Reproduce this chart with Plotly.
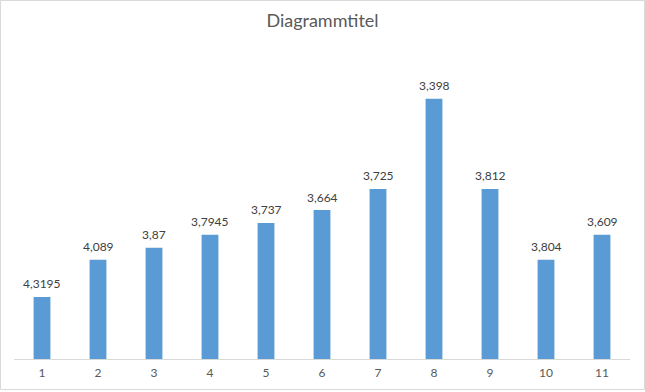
import plotly.graph_objects as go

categories = [1, 2, 3, 4, 5, 6, 7, 8, 9, 10, 11]
bar_values = [2.5, 4.0, 4.48, 5.0, 5.48, 6.0, 6.85, 10.48, 6.85, 4.0, 5.0]
label_texts = ["4,3195", "4,089", "3,87", "3,7945", "3,737", "3,664",
               "3,725", "3,398", "3,812", "3,804", "3,609"]
title_text = "Diagrammtitel"

W, H = 645, 392
ML, MR, MT, MB = 14, 15, 61, 33
PW = W - ML - MR
PH = H - MT - MB

FONT = "Lato, 'Open Sans', sans-serif"

fig = go.Figure()
fig.add_trace(go.Bar(
    x=categories, y=bar_values,
    marker=dict(color="#5B9BD5", line=dict(width=0)),
    hoverinfo="skip",
))

for c, v, t in zip(categories, bar_values, label_texts):
    fig.add_annotation(x=c, y=v, text=t, showarrow=False, yshift=13,
                       font=dict(family=FONT, size=12, color="#404040"))

def px_x(p):
    return (p - ML) / PW

def px_y(p):
    return (H - MB - p) / PH

fig.add_shape(type="rect", xref="paper", yref="paper",
              x0=px_x(0.5), x1=px_x(644.5), y0=px_y(389.5), y1=px_y(0.5),
              line=dict(color="#D9D9D9", width=1), layer="below")

fig.update_layout(
    width=W, height=H,
    margin=dict(l=ML, r=MR, t=MT, b=MB, pad=0),
    paper_bgcolor="white", plot_bgcolor="white",
    bargap=0.7,
    showlegend=False,
    title=dict(text=title_text, x=0.5, xanchor="center", y=1 - 21 / H, yanchor="middle",
               font=dict(family=FONT, size=18, color="#595959")),
    xaxis=dict(range=[0.5, 11.5], tickmode="array", tickvals=categories,
               ticktext=[str(c) for c in categories],
               showgrid=False, zeroline=False,
               showline=True, linecolor="#D9D9D9", linewidth=1, ticks="",
               ticklabelstandoff=3,
               tickfont=dict(family=FONT, size=12, color="#595959"), fixedrange=True),
    yaxis=dict(range=[0, 12], visible=False, showgrid=False, zeroline=False, fixedrange=True),
)

fig.write_html("out.html", config={"displayModeBar": False, "staticPlot": True},
               post_script="document.body.style.margin='0';")
